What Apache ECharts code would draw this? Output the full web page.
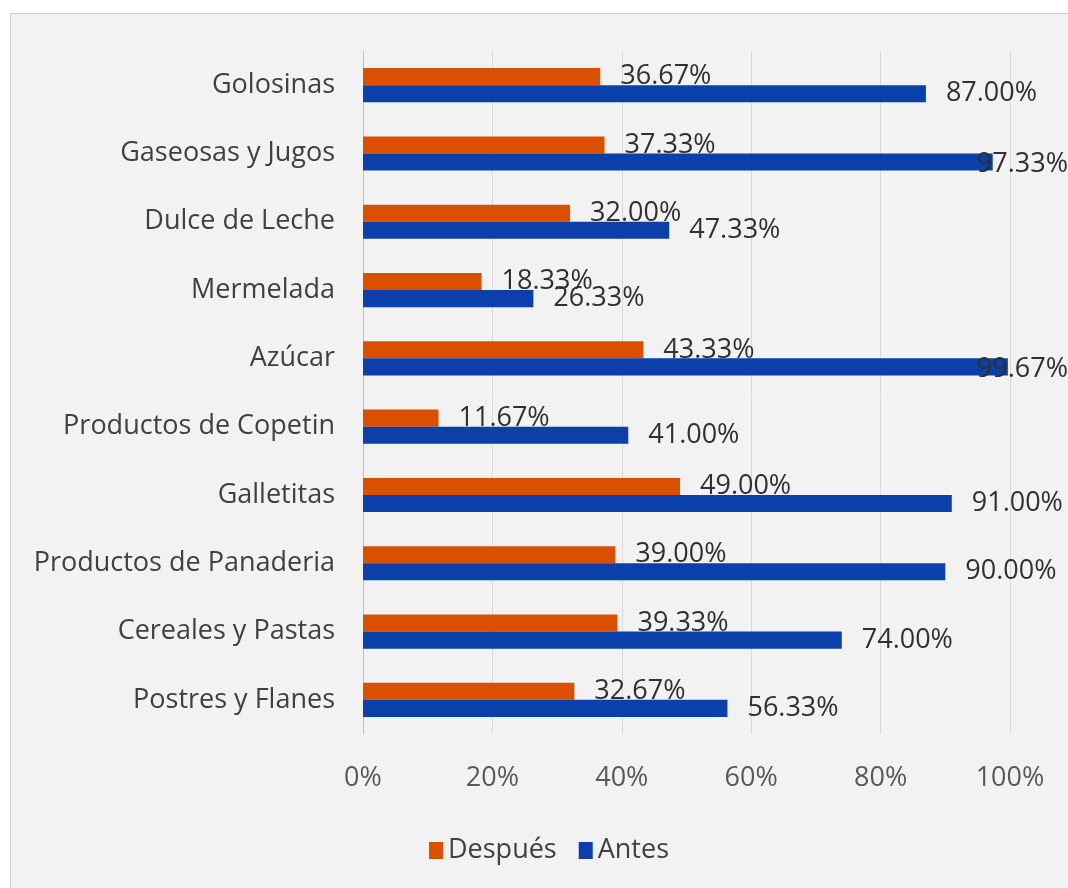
<!DOCTYPE html>
<html>
<head>
<meta charset="utf-8">
<script src="https://cdn.jsdelivr.net/npm/echarts@6/dist/echarts.min.js"></script>
<style>
html,body{margin:0;padding:0;background:#ffffff;}
#chart{width:1068px;height:888px;}
</style>
</head>
<body>
<div id="chart"></div>
<script>
// Categories listed bottom to top
var categories = ['Postres y Flanes','Cereales y Pastas','Productos de Panaderia','Galletitas','Productos de Copetin','Azúcar','Mermelada','Dulce de Leche','Gaseosas y Jugos','Golosinas'];
var despues = [32.67, 39.33, 39.00, 49.00, 11.67, 43.33, 18.33, 32.00, 37.33, 36.67];
var antes = [56.33, 74.00, 90.00, 91.00, 41.00, 99.67, 26.33, 47.33, 97.33, 87.00];
var xTicks = [0, 20, 40, 60, 80, 100];

var FONT = 'Open Sans';
var chart = echarts.init(document.getElementById('chart'));
function labelCfg(dy) {
  return {
    show: true,
    position: 'right',
    distance: 20,
    offset: [0, dy],
    color: '#303030',
    fontFamily: FONT,
    fontSize: 27,
    formatter: function (p) { return p.value.toFixed(2) + '%'; }
  };
}
chart.setOption({
  animation: false,
  graphic: [{
    type: 'rect', z: -10, silent: true,
    shape: {x: 10.5, y: 13.5, width: 1080, height: 900},
    style: {fill: '#f2f2f2', stroke: '#c9c9c9', lineWidth: 1}
  }],
  legend: {
    data: ['Después', 'Antes'],
    left: 424,
    top: 832,
    itemWidth: 14,
    itemHeight: 17,
    itemGap: 22,
    icon: 'rect',
    textStyle: {fontFamily: FONT, fontSize: 27, color: '#404040'}
  },
  grid: {left: 363, right: 58, top: 51, bottom: 154, containLabel: false},
  xAxis: {
    type: 'value', min: 0, max: 100, interval: 20,
    axisLine: {show: false}, axisTick: {show: false},
    splitLine: {lineStyle: {color: '#d9d9d9', width: 1}},
    axisLabel: {
      margin: 31, color: '#595959', fontFamily: FONT, fontSize: 27,
      formatter: function (v) { return xTicks.indexOf(v) >= 0 ? v + '%' : ''; }
    }
  },
  yAxis: {
    type: 'category', data: categories,
    axisLine: {show: true, lineStyle: {color: '#bfbfbf'}},
    axisTick: {show: false},
    axisLabel: {margin: 28, color: '#404040', fontFamily: FONT, fontSize: 27}
  },
  labelLayout: function (p) {
    var r = p.labelRect;
    if (r.x + r.width > 1068) {
      return {x: 1068 - r.width, y: r.y, align: 'left', verticalAlign: 'top'};
    }
    return {};
  },
  series: [
    {name: 'Después', type: 'bar', data: despues, barGap: '0%', barCategoryGap: '50%',
     itemStyle: {color: '#da5000'}, label: labelCfg(1)},
    {name: 'Antes', type: 'bar', data: antes,
     itemStyle: {color: '#0b3faa'}, label: labelCfg(2)}
  ]
});
</script>
</body>
</html>
